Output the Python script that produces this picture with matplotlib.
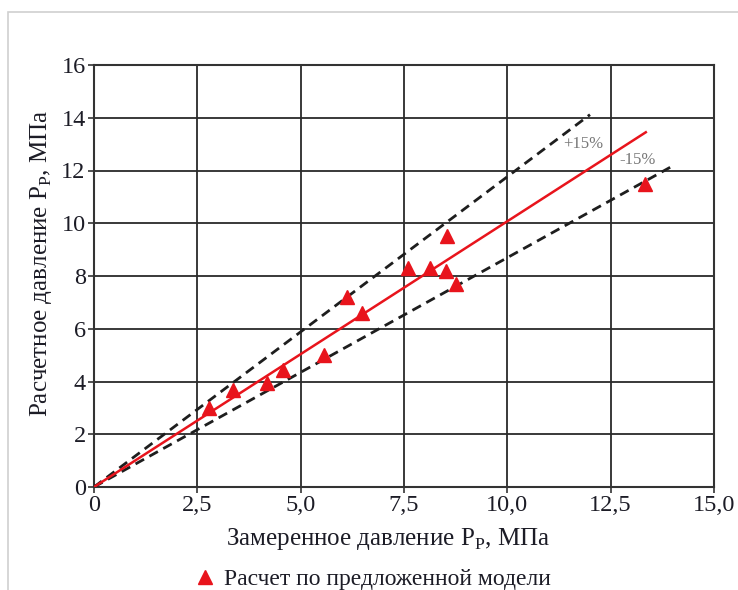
import numpy as np
import matplotlib
matplotlib.use("Agg")
import matplotlib.pyplot as plt
from matplotlib.patches import Rectangle

plt.rcParams['font.family'] = ['Liberation Serif', 'DejaVu Serif']
plt.rcParams['mathtext.fontset'] = 'custom'
plt.rcParams['mathtext.rm'] = 'Liberation Serif'

# measured vs calculated pressure, MPa
measured = [2.78, 3.36, 4.19, 4.57, 5.56, 6.12, 6.48, 7.60, 8.13, 8.54, 8.52, 8.76, 13.33]
calculated = [3.00, 3.68, 3.94, 4.44, 5.00, 7.20, 6.60, 8.30, 8.30, 9.50, 8.20, 7.70, 11.50]

# reference lines
fit_x = [0, 13.35]
fit_y = [0, 13.45]
upper_x = [0, 12.0]   # +15%
lower_x = [0, 14.0]   # -15%

xticks = [0, 2.5, 5.0, 7.5, 10.0, 12.5, 15.0]
xtick_labels = ['0', '2,5', '5,0', '7,5', '10,0', '12,5', '15,0']
yticks = [0, 2, 4, 6, 8, 10, 12, 14, 16]

txt = '#1c1c26'
fig = plt.figure(figsize=(7.38, 5.9), dpi=100)
fig.patches.append(Rectangle((8 / 738, -0.1), 1.0, 1 - 12 / 590 + 0.1,
                             transform=fig.transFigure, fill=False,
                             edgecolor='#d0d0d0', linewidth=1.2))
ax = fig.add_axes([94 / 738, 1 - 487 / 590, 620 / 738, 422 / 590])

red = '#e8141c'
ax.plot(upper_x, [v / 0.85 for v in upper_x], color='#1e1e1e', lw=2.0,
        dashes=(3.5, 2.2), zorder=3)
ax.plot(lower_x, [v / 1.15 for v in lower_x], color='#1e1e1e', lw=2.0,
        dashes=(3.5, 2.2), zorder=3)
ax.plot(fit_x, fit_y, color=red, lw=1.8, zorder=4)
ax.plot(measured, calculated, linestyle='none', marker='^', ms=9.5,
        color=red, zorder=5, label='Расчет по предложенной модели')

ax.text(11.83, 13.0, '+15%', color='#777777', fontsize=12, ha='center', va='center')
ax.text(13.14, 12.4, '-15%', color='#777777', fontsize=12, ha='center', va='center')

ax.set_xlim(0, 15)
ax.set_ylim(0, 16)
ax.set_xticks(xticks)
ax.set_xticklabels(xtick_labels)
ax.set_yticks(yticks)
ax.tick_params(labelsize=17.5, length=4, width=1.2, color='#333333',
               labelcolor=txt, pad=2)
ax.grid(True, color='#2a2a2a', lw=1.3)
ax.set_axisbelow(True)
for s in ax.spines.values():
    s.set_color('#333333')
    s.set_linewidth(1.5)

ax.set_xlabel('Замеренное давление P$_\\mathregular{P}$, МПа', fontsize=18,
              color=txt, labelpad=7)
ax.set_ylabel('Расчетное давление P$_\\mathregular{P}$, МПа', fontsize=18,
              color=txt, labelpad=5)
ax.xaxis.label.set_x(0.474)
ax.yaxis.label.set_y(0.53)

fig.legend(handles=ax.get_lines()[-1:], loc='center', bbox_to_anchor=(372 / 738, 1 - 579 / 590),
           frameon=False, fontsize=17, handlelength=1.0, handletextpad=0.3,
           markerscale=1.0, labelcolor=txt)

fig.savefig('out.png', dpi=100)
